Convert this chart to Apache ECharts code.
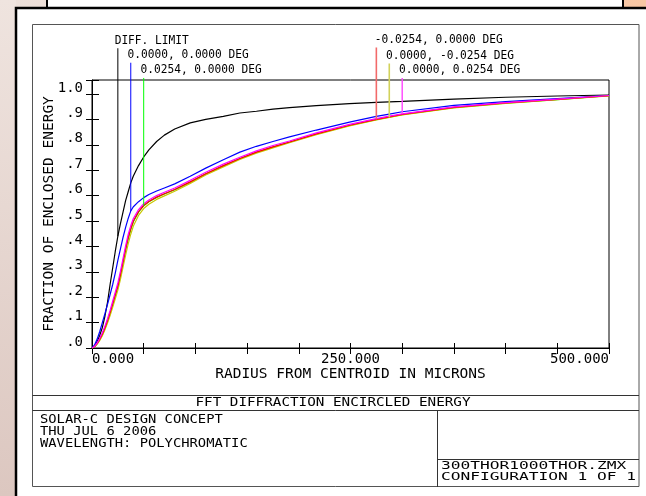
<!DOCTYPE html>
<html><head><meta charset="utf-8">
<script src="https://cdn.jsdelivr.net/npm/echarts@6/dist/echarts.min.js"></script>
<style>html,body{margin:0;padding:0;background:#fff;}#c{width:646px;height:496px;}</style>
</head><body><div id="c"></div>
<script>
// ---- data (radius in microns, fraction of enclosed energy) ----
const radius = [0,2.5,5,7.5,10,12.5,15,17.5,20,22.5,25,27.5,30,32.5,35,37.5,40,45,50,55,62.5,70,80,95,110,127,143,159,175,191,217,249,275,287.5,300,350,400,450,500];
const diffLimit = [0,.006,.025,.05,.08,.125,.18,.25,.315,.38,.44,.49,.535,.58,.615,.65,.677,.718,.752,.78,.813,.838,.862,.886,.90,.912,.925,.932,.94,.946,.954,.962,.967,.969,.971,.98,.987,.992,.996];
const field00 = [0,.012,.035,.065,.10,.135,.172,.21,.25,.295,.345,.39,.435,.475,.51,.54,.556,.576,.592,.604,.618,.63,.646,.676,.708,.741,.771,.794,.813,.831,.858,.889,.912,.921,.93,.955,.97,.982,.994];
const fieldPx = [0,.005,.017,.033,.052,.077,.104,.136,.17,.205,.24,.284,.334,.384,.43,.466,.497,.535,.56,.576,.593,.606,.623,.653,.685,.717,.745,.77,.791,.81,.842,.876,.899,.909,.919,.946,.964,.978,.993];
const fieldMx = [0,.005,.018,.035,.055,.08,.108,.14,.175,.21,.245,.29,.34,.39,.435,.47,.50,.537,.561,.577,.594,.607,.624,.654,.686,.718,.746,.771,.792,.811,.843,.877,.90,.91,.92,.947,.965,.979,.993];
const fieldMy = [0,.004,.015,.03,.048,.072,.098,.128,.16,.194,.228,.27,.318,.366,.41,.448,.48,.522,.549,.566,.585,.599,.617,.648,.681,.713,.742,.767,.788,.808,.84,.874,.898,.908,.918,.945,.963,.978,.992];
const fieldPy = [0,.006,.02,.038,.06,.086,.115,.148,.184,.22,.256,.302,.352,.402,.447,.482,.51,.545,.568,.583,.60,.613,.63,.66,.692,.724,.751,.776,.797,.815,.847,.88,.903,.913,.922,.949,.966,.98,.994];

const seriesNames = ['DIFF. LIMIT','0.0000, 0.0000 DEG','0.0254, 0.0000 DEG','-0.0254, 0.0000 DEG','0.0000, -0.0254 DEG','0.0000, 0.0254 DEG'];
const markerRadius = [25, 37.5, 50, 275, 287.5, 300];
const markerTop = [1.18, 1.123, 1.063, 1.183, 1.12, 1.063];

const xTicks = [0, 250, 500];
const xTitle = 'RADIUS FROM CENTROID IN MICRONS';
const yTitle = 'FRACTION OF ENCLOSED ENERGY';
const plotTitle = 'FFT DIFFRACTION ENCIRCLED ENERGY';
const infoLines = ['SOLAR-C DESIGN CONCEPT','THU JUL 6 2006','WAVELENGTH: POLYCHROMATIC'];
const fileLines = ['300THOR1000THOR.ZMX','CONFIGURATION 1 OF 1'];

// ---- styles ----
const FONT = "'DejaVu Sans Mono', monospace";
const curveData = [diffLimit, field00, fieldPx, fieldMx, fieldMy, fieldPy];
const curveColors = ['#000000','#0000ff','#00ff00','#ff0000','#c8c800','#ff00ff'];
const markerColors = ['#000000','#0000ff','#00ff00','#f26a6a','#d2d25a','#ff44ff'];
const markerWidths = [1,1,1,1.6,1.6,1.4];
const drawOrder = [0,1,2,4,3,5];

const chart = echarts.init(document.getElementById('c'), null, {renderer:'canvas'});

const series = [];
drawOrder.forEach(i => {
  series.push({
    type:'line', name: seriesNames[i], data: radius.map((r,k)=>[r, curveData[i][k]]),
    showSymbol:false, symbol:'none', smooth:false,
    lineStyle:{color:curveColors[i], width:1.2}, silent:true, z:3
  });
});
markerRadius.forEach((r,i) => {
  const k = radius.indexOf(r);
  series.push({
    type:'line', data:[[r, curveData[i][k]],[r, markerTop[i]]], clip:false,
    showSymbol:false, symbol:'none', lineStyle:{color:markerColors[i], width:markerWidths[i]}, silent:true, z:4
  });
});

const yFmt = v => { const n = Math.round(v*10); if (Math.abs(v*10-n) > 1e-6 || n > 10) return ''; return n === 10 ? '1.0' : '.' + n; };

chart.setOption({
  animation:false,
  grid:{left:92, top:80, width:517, height:268, show:true, borderColor:'#000', borderWidth:1, backgroundColor:'transparent'},
  xAxis:[{
    type:'value', min:0, max:500, interval:50, position:'bottom',
    axisLine:{show:true, lineStyle:{color:'#000', width:1}},
    axisTick:{show:true, inside:true, length:5, lineStyle:{color:'#000'}},
    splitLine:{show:false},
    axisLabel:{interval:0, margin:4, color:'#000', fontFamily:FONT, fontSize:14, lineHeight:14,
      alignMinLabel:'left', alignMaxLabel:'right',
      formatter: v => xTicks.indexOf(v) >= 0 ? v.toFixed(3) : ''},
    name:xTitle, nameLocation:'middle', nameGap:19, nameMoveOverlap:false,
    nameTextStyle:{color:'#000', fontFamily:FONT, fontSize:14.5}
  },{
    type:'value', min:0, max:500, interval:50, position:'top',
    axisLine:{show:false}, axisTick:{show:true, inside:true, length:6, lineStyle:{color:'#000'}},
    axisLabel:{show:false}, splitLine:{show:false}
  }],
  yAxis:[{
    type:'value', min:0, max:1.055, interval:0.1, position:'left',
    axisLine:{show:true, lineStyle:{color:'#000', width:1}},
    axisTick:{show:true, inside:true, length:7, lineStyle:{color:'#000'}},
    splitLine:{show:false},
    axisLabel:{margin:9, color:'#000', fontFamily:FONT, fontSize:14, lineHeight:12, verticalAlign:'bottom', formatter:yFmt},
    name:yTitle, nameLocation:'middle', nameGap:35, nameMoveOverlap:false,
    nameTextStyle:{color:'#000', fontFamily:FONT, fontSize:14.5}
  },{
    type:'value', min:0, max:1.055, interval:0.1, position:'right',
    axisLine:{show:false}, axisTick:{show:true, inside:true, length:6, lineStyle:{color:'#000'}},
    axisLabel:{show:false}, splitLine:{show:false}
  }],
  series: series
});

function txt(str, x, y, size, sx, align){
  return {type:'text', x:x, y:y, scaleX:sx, z:5, silent:true,
    style:{text:str, font: size+'px '+FONT, fill:'#000', align:align||'left', textAlign:align||'left', verticalAlign:'middle', textVerticalAlign:'middle'}};
}

const g = [];
// background and frames
g.push({type:'rect', shape:{x:0,y:0,width:16,height:496}, z:-10, silent:true,
  style:{fill:new echarts.graphic.LinearGradient(0,0,0,1,[{offset:0,color:'#efe4df'},{offset:1,color:'#dcc7c0'}])}});
g.push({type:'rect', shape:{x:16,y:0,width:630,height:8}, z:-10, silent:true,
  style:{fill:new echarts.graphic.LinearGradient(0,0,1,0,[{offset:0,color:'#ece0da'},{offset:1,color:'#f7c6a3'}])}});
g.push({type:'rect', shape:{x:47,y:-3,width:576,height:11}, z:-9, silent:true, style:{fill:'#fff', stroke:'#000', lineWidth:2}});
g.push({type:'rect', shape:{x:16,y:8,width:640,height:500}, z:-9, silent:true, style:{fill:'#fff', stroke:'#000', lineWidth:2.5}});
g.push({type:'rect', shape:{x:32.5,y:24.5,width:606.5,height:462}, z:-8, silent:true, style:{fill:'none', stroke:'#555', lineWidth:1}});
g.push({type:'line', shape:{x1:32.5,y1:395.5,x2:639,y2:395.5}, z:-8, silent:true, style:{stroke:'#333', lineWidth:1}});
g.push({type:'line', shape:{x1:32.5,y1:410.5,x2:639,y2:410.5}, z:-8, silent:true, style:{stroke:'#333', lineWidth:1}});
g.push({type:'line', shape:{x1:437.5,y1:410.5,x2:437.5,y2:487}, z:-8, silent:true, style:{stroke:'#333', lineWidth:1}});
g.push({type:'line', shape:{x1:437.5,y1:459.5,x2:639,y2:459.5}, z:-8, silent:true, style:{stroke:'#333', lineWidth:1}});

// legend labels above the marker lines
markerRadius.forEach((r,i) => {
  const p = chart.convertToPixel({gridIndex:0}, [r, markerTop[i]]);
  const name = seriesNames[i];
  const dx = name.charAt(0) === '-' ? -1.5 : -3.2;
  g.push(txt(name, p[0]+dx, p[1]-8, 13, 0.86, 'left'));
});

g.push(txt(plotTitle, 333, 403, 12, 1.19, 'center'));
infoLines.forEach((s,i) => g.push(txt(s, 40, 420 + i*11.8, 11.5, 1.2, 'left')));
fileLines.forEach((s,i) => g.push(txt(s, 441, 466.5 + i*11, 10, 1.62, 'left')));

chart.setOption({graphic: g});
</script>
</body></html>
